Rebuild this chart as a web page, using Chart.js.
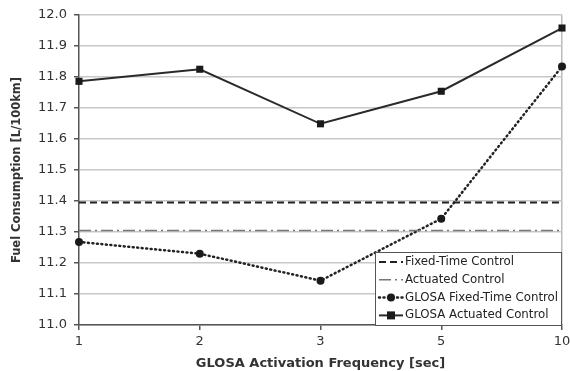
<!DOCTYPE html>
<html>
<head>
<meta charset="utf-8">
<script src="https://cdn.jsdelivr.net/npm/chart.js@4.4.1/dist/chart.umd.min.js"></script>
<style>
  html, body { margin: 0; padding: 0; background: #fff; }
  #wrap { width: 570px; height: 371px; }
</style>
</head>
<body>
<div id="wrap"><canvas id="fuelChart" width="570" height="371"></canvas></div>
<script>
// Datos
const frequencies = ["1", "2", "3", "5", "10"];
const fixedTimeControl = [11.395, 11.395, 11.395, 11.395, 11.395];
const actuatedControl = [11.305, 11.305, 11.305, 11.305, 11.305];
const glosaFixedTime = [11.268, 11.23, 11.143, 11.343, 11.834];
const glosaActuated = [11.786, 11.825, 11.649, 11.754, 11.958];
const seriesLabels = ["Fixed-Time Control", "Actuated Control", "GLOSA Fixed-Time Control", "GLOSA Actuated Control"];

const FONT = "'DejaVu Sans', sans-serif";
const TEXT = "#333";

// Leyenda dentro del área del gráfico (abajo a la derecha)
const boxLegend = {
  id: "boxLegend",
  afterDatasetsDraw(chart) {
    const ctx = chart.ctx;
    const area = chart.chartArea;
    const w = 186, h = 73;
    const x0 = area.right - w - 1, y0 = area.bottom - h;
    ctx.save();
    ctx.fillStyle = "#fff";
    ctx.fillRect(x0, y0, w, h);
    ctx.strokeStyle = "#555";
    ctx.lineWidth = 1;
    ctx.strokeRect(x0 + 0.5, y0 + 0.5, w, h);
    ctx.font = "11.8px " + FONT;
    ctx.textBaseline = "middle";
    chart.data.datasets.forEach((ds, i) => {
      const y = y0 + 10 + i * 17.8;
      ctx.save();
      ctx.strokeStyle = ds.borderColor;
      ctx.lineWidth = ds.borderWidth;
      ctx.lineCap = ds.borderCapStyle || "butt";
      ctx.setLineDash(ds.borderDash || []);
      ctx.beginPath();
      ctx.moveTo(x0 + 4, y);
      ctx.lineTo(x0 + 28, y);
      ctx.stroke();
      ctx.setLineDash([]);
      ctx.fillStyle = ds.pointBackgroundColor;
      if (ds.pointStyle === "circle" && ds.pointRadius) {
        ctx.beginPath();
        ctx.arc(x0 + 16, y, ds.pointRadius, 0, Math.PI * 2);
        ctx.fill();
      } else if (ds.pointStyle === "rect" && ds.pointRadius) {
        const r = ds.pointRadius * 0.8;
        ctx.fillRect(x0 + 16 - r, y - r, 2 * r, 2 * r);
      }
      ctx.restore();
      ctx.fillStyle = "#222";
      ctx.fillText(ds.label, x0 + 30, y);
    });
    ctx.restore();
  }
};

new Chart(document.getElementById("fuelChart"), {
  type: "line",
  data: {
    labels: frequencies,
    datasets: [
      {
        label: seriesLabels[0],
        data: fixedTimeControl,
        borderColor: "#222",
        borderWidth: 2,
        borderDash: [7, 4],
        pointRadius: 0,
        pointBackgroundColor: "#222"
      },
      {
        label: seriesLabels[1],
        data: actuatedControl,
        borderColor: "#777",
        borderWidth: 1.5,
        borderDash: [12, 4, 2, 4],
        pointRadius: 0,
        pointBackgroundColor: "#777"
      },
      {
        label: seriesLabels[2],
        data: glosaFixedTime,
        borderColor: "#222",
        borderWidth: 2.5,
        borderDash: [1, 3.5],
        borderCapStyle: "round",
        pointStyle: "circle",
        pointRadius: 4,
        pointBackgroundColor: "#1a1a1a",
        pointBorderWidth: 0
      },
      {
        label: seriesLabels[3],
        data: glosaActuated,
        borderColor: "#2a2a2a",
        borderWidth: 2,
        pointStyle: "rect",
        pointRadius: 5,
        pointBackgroundColor: "#1a1a1a",
        pointBorderWidth: 0
      }
    ]
  },
  options: {
    responsive: false,
    animation: false,
    layout: { padding: { top: 15, right: 8, left: 0, bottom: 0 } },
    plugins: {
      legend: { display: false },
      tooltip: { enabled: false }
    },
    scales: {
      x: {
        offset: false,
        afterFit(scale) {
          scale.height = 46;
          scale.paddingLeft = 0;
          scale.paddingRight = 0;
        },
        border: { color: "#555", width: 1.5 },
        grid: {
          drawOnChartArea: true,
          color: (c) => (c.index === frequencies.length - 1 ? "#bbb" : "rgba(0,0,0,0)"),
          tickColor: "#555",
          tickLength: 5,
          lineWidth: 1.5
        },
        ticks: { color: TEXT, font: { family: FONT, size: 13 }, padding: 4, maxRotation: 0 },
        title: {
          display: true,
          text: "GLOSA Activation Frequency [sec]",
          color: TEXT,
          font: { family: FONT, size: 13, weight: "bold" },
          padding: { top: 1, bottom: 0 }
        }
      },
      y: {
        min: 11.0,
        max: 12.0,
        afterFit(scale) {
          scale.width = 79;
          scale.paddingTop = 0;
          scale.paddingBottom = 0;
        },
        border: { color: "#555", width: 1.5 },
        grid: {
          color: "#c8c8c8",
          tickColor: "#555",
          tickLength: 5,
          lineWidth: 1.5
        },
        ticks: {
          stepSize: 0.1,
          color: TEXT,
          font: { family: FONT, size: 13 },
          padding: 7,
          callback: (v) => Number(v).toFixed(1)
        },
        title: {
          display: true,
          text: "Fuel Consumption [L/100km]",
          color: TEXT,
          font: { family: FONT, size: 11.5, weight: "bold" },
          padding: { top: 10, bottom: 0 }
        }
      }
    }
  },
  plugins: [boxLegend]
});
</script>
</body>
</html>
